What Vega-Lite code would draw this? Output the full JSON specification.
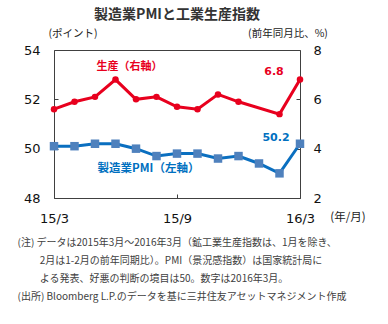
{
  "$schema": "https://vega.github.io/schema/vega-lite/v6.json",
  "width": 246,
  "height": 148,
  "autosize": {"type": "none"},
  "padding": {"left": 54, "top": 50, "right": 88, "bottom": 126},
  "background": "white",
  "title": {
    "text": "製造業PMIと工業生産指数",
    "font": "Noto Sans CJK JP",
    "fontSize": 14,
    "fontWeight": "bold",
    "color": "#333333",
    "anchor": "middle",
    "offset": 6
  },
  "config": {
    "view": {"stroke": "#404040", "strokeWidth": 1},
    "axis": {
      "grid": false,
      "domain": false,
      "tickColor": "#404040",
      "tickSize": -4,
      "labelFont": "DejaVu Sans",
      "labelFontSize": 13,
      "labelColor": "#111111",
      "titleFont": "Noto Sans CJK JP",
      "titleFontSize": 10.5,
      "titleFontWeight": "normal",
      "titleColor": "#222222"
    }
  },
  "datasets": {
    "pmi": [
      {"i": 0, "month": "15/3", "pmi": 50.1},
      {"i": 1, "month": "15/4", "pmi": 50.1},
      {"i": 2, "month": "15/5", "pmi": 50.2},
      {"i": 3, "month": "15/6", "pmi": 50.2},
      {"i": 4, "month": "15/7", "pmi": 50.0},
      {"i": 5, "month": "15/8", "pmi": 49.7},
      {"i": 6, "month": "15/9", "pmi": 49.8},
      {"i": 7, "month": "15/10", "pmi": 49.8},
      {"i": 8, "month": "15/11", "pmi": 49.6},
      {"i": 9, "month": "15/12", "pmi": 49.7},
      {"i": 10, "month": "16/1", "pmi": 49.4},
      {"i": 11, "month": "16/2", "pmi": 49.0},
      {"i": 12, "month": "16/3", "pmi": 50.2}
    ],
    "ip": [
      {"i": 0, "month": "15/3", "ip": 5.6},
      {"i": 1, "month": "15/4", "ip": 5.9},
      {"i": 2, "month": "15/5", "ip": 6.1},
      {"i": 3, "month": "15/6", "ip": 6.8},
      {"i": 4, "month": "15/7", "ip": 6.0},
      {"i": 5, "month": "15/8", "ip": 6.1},
      {"i": 6, "month": "15/9", "ip": 5.7},
      {"i": 7, "month": "15/10", "ip": 5.6},
      {"i": 8, "month": "15/11", "ip": 6.2},
      {"i": 9, "month": "15/12", "ip": 5.9},
      {"i": 11, "month": "16/2", "ip": 5.4},
      {"i": 12, "month": "16/3", "ip": 6.8}
    ]
  },
  "layer": [
    {
      "data": {"name": "pmi"},
      "encoding": {
        "x": {
          "field": "i",
          "type": "quantitative",
          "scale": {"domain": [0, 12], "nice": false, "zero": false},
          "axis": {
            "values": [0, 6, 12],
            "labelExpr": "datum.value==0?'15/3':datum.value==6?'15/9':'16/3'",
            "labelFlush": false,
            "labelPadding": 18,
            "title": [
              "(注) データは2015年3月～2016年3月（鉱工業生産指数は、1月を除き、",
              "\u200b\u3000\u3000 2月は1-2月の前年同期比）。PMI（景況感指数）は国家統計局に",
              "\u200b\u3000\u3000 よる発表、好悪の判断の境目は50。数字は2016年3月。",
              "(出所) Bloomberg L.P.のデータを基に三井住友アセットマネジメント作成"
            ],
            "titleX": -37,
            "titleY": 39,
            "titleAngle": 0,
            "titleAlign": "left",
            "titleBaseline": "top",
            "titleFontSize": 10,
            "titleLineHeight": 18,
            "titleColor": "#404040"
          }
        },
        "y": {
          "field": "pmi",
          "type": "quantitative",
          "scale": {"domain": [48, 54], "nice": false, "zero": false},
          "axis": {
            "orient": "left",
            "values": [48, 50, 52, 54],
            "labelPadding": 18,
            "title": "(ポイント)",
            "titleAngle": 0,
            "titleX": 18.5,
            "titleY": -17,
            "titleAlign": "center",
            "titleBaseline": "middle"
          }
        }
      },
      "layer": [
        {"mark": {"type": "line", "color": "#0a6fc0", "strokeWidth": 3}},
        {"mark": {"type": "point", "shape": "square", "filled": true, "color": "#4f81bd", "opacity": 1, "size": 72}},
        {
          "transform": [{"filter": "datum.i == 12"}],
          "mark": {"type": "text", "font": "DejaVu Sans", "fontSize": 11, "fontWeight": "bold", "color": "#0070c0", "align": "center", "baseline": "middle", "dx": -24, "dy": -6},
          "encoding": {"text": {"field": "pmi", "type": "quantitative", "format": ".1f"}}
        },
        {
          "transform": [{"filter": "datum.i == 0"}],
          "mark": {"type": "text", "font": "Noto Sans CJK JP", "fontSize": 11.5, "fontWeight": "bold", "color": "#0070c0", "align": "center", "baseline": "middle"},
          "encoding": {
            "x": {"datum": 4.61},
            "y": {"datum": 49.18},
            "text": {"value": "製造業PMI（左軸）"}
          }
        },
        {
          "transform": [{"filter": "datum.i == 0"}],
          "mark": {"type": "text", "font": "Noto Sans CJK JP", "fontSize": 11.5, "color": "#222222", "align": "center", "baseline": "middle", "dx": 48, "dy": 20},
          "encoding": {
            "x": {"datum": 12},
            "y": {"datum": 48},
            "text": {"value": "(年/月)"}
          }
        }
      ]
    },
    {
      "data": {"name": "ip"},
      "encoding": {
        "x": {"field": "i", "type": "quantitative", "scale": {"domain": [0, 12], "nice": false, "zero": false}},
        "y": {
          "field": "ip",
          "type": "quantitative",
          "scale": {"domain": [2, 8], "nice": false, "zero": false},
          "axis": {
            "orient": "right",
            "values": [2, 4, 6, 8],
            "labelPadding": 17,
            "title": "(前年同月比、%)",
            "titleAngle": 0,
            "titleX": -12.5,
            "titleY": -17,
            "titleAlign": "center",
            "titleBaseline": "middle"
          }
        }
      },
      "layer": [
        {"mark": {"type": "line", "color": "#e8001e", "strokeWidth": 3}},
        {"mark": {"type": "point", "shape": "circle", "filled": true, "color": "#e8001e", "opacity": 1, "size": 42}},
        {
          "transform": [{"filter": "datum.i == 12"}],
          "mark": {"type": "text", "font": "DejaVu Sans", "fontSize": 11, "fontWeight": "bold", "color": "#e8001e", "align": "center", "baseline": "middle", "dx": -26, "dy": -8},
          "encoding": {"text": {"field": "ip", "type": "quantitative", "format": ".1f"}}
        },
        {
          "transform": [{"filter": "datum.i == 0"}],
          "mark": {"type": "text", "font": "Noto Sans CJK JP", "fontSize": 11, "fontWeight": "bold", "color": "#e8001e", "align": "center", "baseline": "middle"},
          "encoding": {
            "x": {"datum": 3.68},
            "y": {"datum": 7.31},
            "text": {"value": "生産（右軸）"}
          }
        }
      ]
    }
  ],
  "resolve": {"scale": {"y": "independent"}}
}
